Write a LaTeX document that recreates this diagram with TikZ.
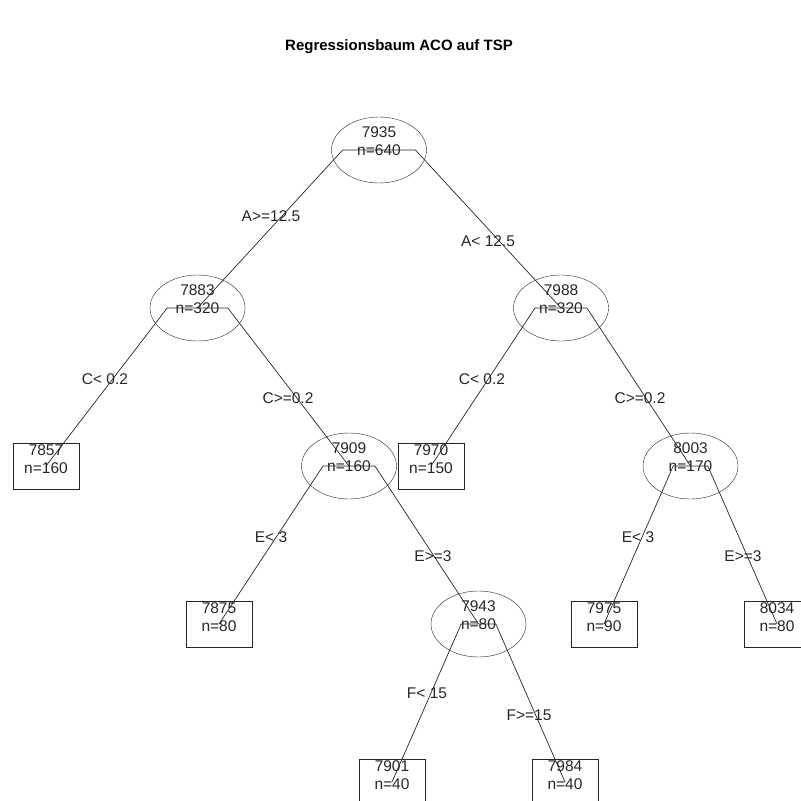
\documentclass[tikz,border=0pt]{standalone}
\usepackage{fontspec}
\setmainfont{Liberation Sans}
\usetikzlibrary{shapes.geometric}
\usetikzlibrary{calc}
\tikzstyle{split} = [draw=black!85, ellipse, minimum width=95pt,
minimum height=66pt, inner sep=0pt]
\tikzstyle{leaf} = [draw=black!85, rectangle, minimum width=66pt,
minimum height=46pt, inner sep=0pt]
\tikzstyle{txt} = [inner sep=0pt, text=black!85, font=\fontsize{15.5}{16}\selectfont]
\tikzstyle{line} = [draw=black!85, line width=0.7pt]

\newcommand{\splitnode}[5]{%
  \node[split] (#1) at (#2,#3) {};
  \node[txt] (#1v) at (#2,#3-18) {#4};
  \node[txt] (#1n) at (#2,#3) {n=#5};}
\newcommand{\leafnode}[5]{%
  \node[leaf] (#1) at (#2,#3) {};
  \node[txt] (#1v) at (#2,#3-16) {#4};
  \node[txt] (#1n) at (#2,#3+2) {n=#5};}
\newcommand{\branch}[2]{%
  \coordinate (#1#2s) at ($(#1.center)!.2!(#2.center)$);
  \path[line] (#1.center) -- (#1#2s |- #1.center) -- (#2.center);}

\begin{document}
\begin{tikzpicture}[x=1pt, y=-1pt]
    \useasboundingbox (0,0) rectangle (801,801);
    \clip (0,0) rectangle (801,801);
    \node[txt, text=black, font=\fontsize{15}{16}\selectfont\bfseries] (title) at (399,47) {Regressionsbaum ACO auf TSP};
    %% Nodes
    \splitnode{r}{379}{150}{7935}{640}
    \splitnode{a}{197.5}{308}{7883}{320}
    \splitnode{b}{561}{308}{7988}{320}
    \leafnode{aa}{46}{466}{7857}{160}
    \splitnode{ab}{349}{466}{7909}{160}
    \leafnode{ba}{431}{466}{7970}{150}
    \splitnode{bb}{690.5}{466}{8003}{170}
    \leafnode{aba}{219}{624}{7875}{80}
    \splitnode{abb}{478.5}{624}{7943}{80}
    \leafnode{bba}{604}{624}{7975}{90}
    \leafnode{bbb}{777}{624}{8034}{80}
    \leafnode{abba}{392}{782}{7901}{40}
    \leafnode{abbb}{565}{782}{7984}{40}
    %% Branches
    \branch{r}{a}
    \branch{r}{b}
    \branch{a}{aa}
    \branch{a}{ab}
    \branch{b}{ba}
    \branch{b}{bb}
    \branch{ab}{aba}
    \branch{ab}{abb}
    \branch{bb}{bba}
    \branch{bb}{bbb}
    \branch{abb}{abba}
    \branch{abb}{abbb}
    %% Split labels
    \node[txt] (rl) at (271,216) {A>=12.5};
    \node[txt] (rr) at (488,241) {A< 12.5};
    \node[txt] (al) at (105,379) {C< 0.2};
    \node[txt] (ar) at (288,398) {C>=0.2};
    \node[txt] (bl) at (482,379) {C< 0.2};
    \node[txt] (br) at (640,398) {C>=0.2};
    \node[txt] (abl) at (271,537) {E< 3};
    \node[txt] (abr) at (433,556) {E>=3};
    \node[txt] (bbl) at (638,537) {E< 3};
    \node[txt] (bbr) at (743,556) {E>=3};
    \node[txt] (abbl) at (427,693) {F< 15};
    \node[txt] (abbr) at (529,715) {F>=15};
\end{tikzpicture}
\end{document}
